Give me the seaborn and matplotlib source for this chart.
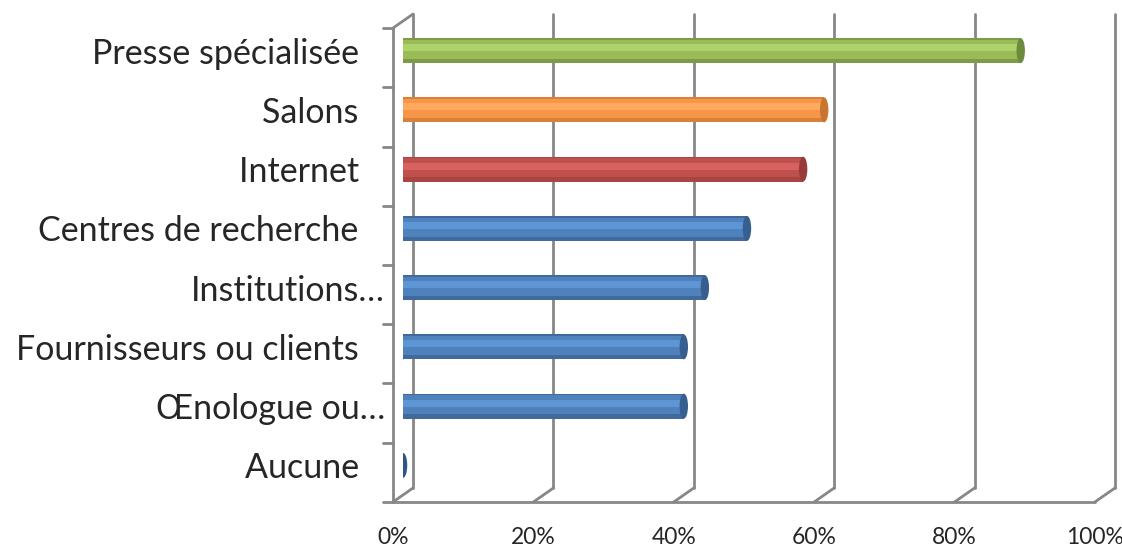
import numpy as np
import pandas as pd
import matplotlib
matplotlib.use("Agg")
import matplotlib.pyplot as plt
import matplotlib.transforms as mtransforms
from matplotlib.patches import Ellipse
import seaborn as sns

# data
categories = ["Presse spécialisée", "Salons", "Internet", "Centres de recherche",
              "Institutions…", "Fournisseurs ou clients", "Œnologue ou…", "Aucune"]
values = [0.88, 0.60, 0.57, 0.49, 0.43, 0.40, 0.40, 0.0]
x_ticks = [0, 0.2, 0.4, 0.6, 0.8, 1.0]
x_labels = ["0%", "20%", "40%", "60%", "80%", "100%"]

# cylinder colours: base (dark edge), body, highlight, end cap
base_c = ["#7E9B47", "#D9803A", "#A84442", "#41699B", "#41699B", "#41699B", "#41699B", "#41699B"]
body_c = ["#9BBB59", "#F79646", "#C0504D", "#4F81BD", "#4F81BD", "#4F81BD", "#4F81BD", "#4F81BD"]
high_c = ["#AED36A", "#FDAA5E", "#D8625E", "#5E95D5", "#5E95D5", "#5E95D5", "#5E95D5", "#5E95D5"]
cap_c = ["#6E8A3D", "#C8762F", "#973C3A", "#365E8F", "#365E8F", "#365E8F", "#365E8F", "#2F5587"]

df = pd.DataFrame({"cat": categories, "val": values})

sns.set_style("white")
plt.rcParams["font.family"] = ["Lato", "DejaVu Sans"]

fig = plt.figure(figsize=(11.22, 5.49), dpi=100)
ax = fig.add_axes([0.3592, 0.0984, 0.6256, 0.8633])

sns.barplot(data=df, x="val", y="cat", hue="cat", palette=base_c, legend=False,
            orient="h", width=0.42, ax=ax, saturation=1, zorder=3,
            linewidth=0, edgecolor="none")
pos = np.arange(len(categories))
ax.barh(pos - 0.02, values, height=0.32, color=body_c, zorder=4, linewidth=0)
ax.barh(pos - 0.05, values, height=0.12, color=high_c, zorder=5, linewidth=0)
for i, v in enumerate(values):
    if v > 0:
        ax.add_patch(Ellipse((0, i), 0.012, 0.42, color=base_c[i], zorder=2, lw=0))
    ax.add_patch(Ellipse((v, i), 0.012, 0.42, color=cap_c[i], zorder=6, lw=0))

ax.set_xlim(0, 1)
ax.set_ylim(len(categories) - 0.5, -0.5)
for s in ax.spines.values():
    s.set_visible(False)

# 3d-ish walls: back gridlines, floor diagonals, left wall
grid = "#878787"
dx, dy = 10 / 702, 7 / 59.3
n = len(categories)
for t in x_ticks:
    ax.plot([t + dx, t + dx], [-0.5 - dy, n - 0.5 - dy], color=grid, lw=2, zorder=1, clip_on=False)
    ax.plot([t - dx, t + dx], [n - 0.5 + dy, n - 0.5 - dy], color=grid, lw=2, zorder=1, clip_on=False)
ax.plot([-dx, 1 - dx], [n - 0.5 + dy, n - 0.5 + dy], color=grid, lw=2, zorder=1, clip_on=False)
ax.plot([-dx, -dx], [-0.5 + dy, n - 0.5 + dy], color=grid, lw=2, zorder=1, clip_on=False)
ax.plot([-dx, dx], [-0.5 + dy, -0.5 - dy], color=grid, lw=2, zorder=1, clip_on=False)
for b in np.arange(-0.5, n, 1.0):
    ax.plot([-dx - 0.014, -dx], [b + dy, b + dy], color=grid, lw=2, zorder=1, clip_on=False)

ax.set_xticks(x_ticks)
ax.set_xticklabels(x_labels, fontsize=16.5)
ax.tick_params(axis="x", length=0, pad=23)
shift = mtransforms.ScaledTranslation(-10 / 100, 0, fig.dpi_scale_trans)
for lab in ax.get_xticklabels():
    lab.set_transform(lab.get_transform() + shift)

ax.set_yticks(pos)
ax.set_yticklabels(["Presse spécialisée   ", "Salons   ", "Internet   ",
                    "Centres de recherche   ", "Institutions…", "Fournisseurs ou clients   ",
                    "Œnologue ou…", "Aucune   "], fontsize=24.5)
ax.tick_params(axis="y", length=0, pad=13)
ax.set_xlabel("")
ax.set_ylabel("")
ax.grid(False)

plt.savefig("out.png", dpi=100)
plt.close()
